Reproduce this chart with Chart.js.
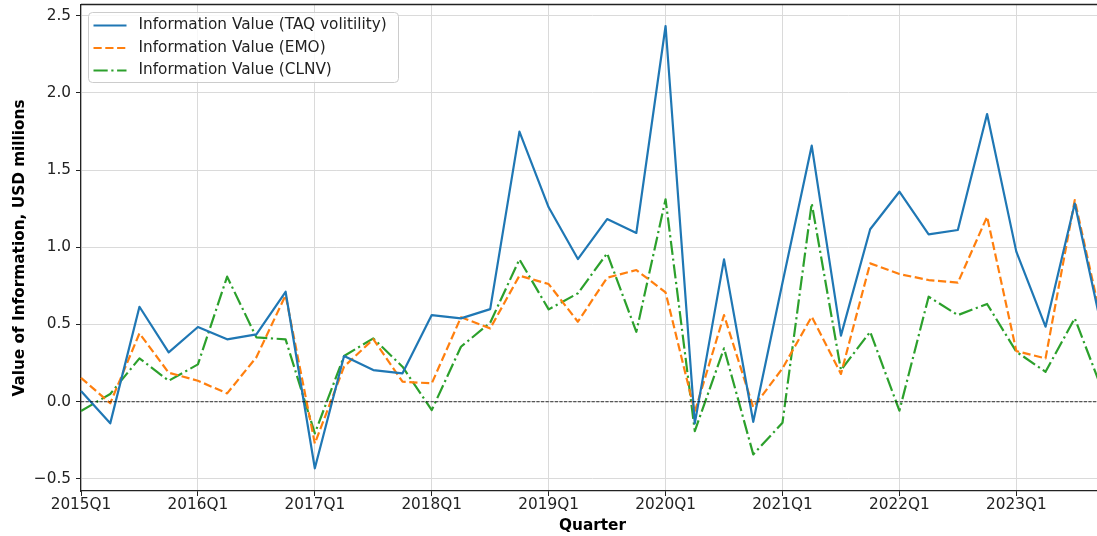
<!DOCTYPE html>
<html>
<head>
<meta charset="utf-8">
<script src="https://cdn.jsdelivr.net/npm/chart.js@4.4.1/dist/chart.umd.min.js"></script>
<style>
  html, body { margin: 0; padding: 0; background: #fff; overflow: hidden; }
  #wrap { width: 1112px; height: 536px; }
</style>
</head>
<body>
<div id="wrap"><canvas id="c" width="1112" height="536"></canvas></div>
<script>
const quarters = [
  '2015Q1','2015Q2','2015Q3','2015Q4','2016Q1','2016Q2','2016Q3','2016Q4',
  '2017Q1','2017Q2','2017Q3','2017Q4','2018Q1','2018Q2','2018Q3','2018Q4',
  '2019Q1','2019Q2','2019Q3','2019Q4','2020Q1','2020Q2','2020Q3','2020Q4',
  '2021Q1','2021Q2','2021Q3','2021Q4','2022Q1','2022Q2','2022Q3','2022Q4',
  '2023Q1','2023Q2','2023Q3','2023Q4'
];
const taqValues = [0.07, -0.14, 0.615, 0.32, 0.484, 0.404, 0.436, 0.712,
  -0.431, 0.296, 0.205, 0.184, 0.561, 0.54, 0.60, 1.749,
  1.259, 0.924, 1.183, 1.093, 2.433, -0.14, 0.922, -0.13,
  0.77, 1.658, 0.428, 1.117, 1.36, 1.084, 1.112, 1.863,
  0.972, 0.486, 1.283, 0.41];
const emoValues = [0.155, -0.01, 0.443, 0.188, 0.136, 0.054, 0.288, 0.69,
  -0.27, 0.227, 0.405, 0.13, 0.119, 0.547, 0.475, 0.816,
  0.762, 0.518, 0.803, 0.853, 0.708, -0.065, 0.561, -0.036,
  0.216, 0.551, 0.18, 0.896, 0.827, 0.788, 0.771, 1.198,
  0.328, 0.281, 1.306, 0.45];
const clnvValues = [-0.06, 0.05, 0.281, 0.136, 0.242, 0.81, 0.417, 0.404,
  -0.205, 0.296, 0.41, 0.227, -0.054, 0.356, 0.512, 0.922,
  0.598, 0.702, 0.961, 0.453, 1.311, -0.19, 0.346, -0.341,
  -0.136, 1.285, 0.205, 0.453, -0.058, 0.68, 0.561, 0.633,
  0.324, 0.194, 0.54, 0.047];
const seriesLabels = ['Information Value (TAQ volitility)', 'Information Value (EMO)', 'Information Value (CLNV)'];
const yTickValues = [-0.5, 0.0, 0.5, 1.0, 1.5, 2.0, 2.5];

const FONT = "'DejaVu Sans', sans-serif";
const FS = 15.3;
const TXT = '#222';

const framePlugin = {
  id: 'frame',
  afterDatasetsDraw(chart) {
    const {ctx, chartArea: a, scales: {y}} = chart;
    const y0 = y.getPixelForValue(0);
    ctx.save();
    ctx.strokeStyle = '#000';
    ctx.lineWidth = 0.8;
    ctx.setLineDash([3.2, 1.4]);
    ctx.beginPath();
    ctx.moveTo(a.left, y0);
    ctx.lineTo(a.right, y0);
    ctx.stroke();
    ctx.restore();
  },
  afterDraw(chart) {
    const {ctx, chartArea: a} = chart;
    ctx.save();
    ctx.strokeStyle = TXT;
    ctx.lineWidth = 1.3;
    ctx.beginPath();
    ctx.moveTo(a.left, a.top - 0.5);
    ctx.lineTo(a.right, a.top - 0.5);
    ctx.moveTo(a.right, a.top);
    ctx.lineTo(a.right, a.bottom);
    ctx.stroke();
    // legend
    const bx = a.left + 7.5, by = a.top + 7.5, bw = 310, bh = 70, r = 4;
    ctx.beginPath();
    ctx.moveTo(bx + r, by);
    ctx.arcTo(bx + bw, by, bx + bw, by + bh, r);
    ctx.arcTo(bx + bw, by + bh, bx, by + bh, r);
    ctx.arcTo(bx, by + bh, bx, by, r);
    ctx.arcTo(bx, by, bx + bw, by, r);
    ctx.closePath();
    ctx.fillStyle = 'rgba(255,255,255,0.8)';
    ctx.fill();
    ctx.strokeStyle = '#cccccc';
    ctx.lineWidth = 1;
    ctx.stroke();
    ctx.font = FS + 'px ' + FONT;
    ctx.textBaseline = 'middle';
    ctx.fillStyle = TXT;
    chart.data.datasets.forEach((ds, i) => {
      const cy = by + 13 + i * 22.5;
      ctx.save();
      ctx.strokeStyle = ds.borderColor;
      ctx.lineWidth = ds.borderWidth;
      ctx.setLineDash(ds.borderDash || []);
      ctx.beginPath();
      ctx.moveTo(bx + 5, cy);
      ctx.lineTo(bx + 38, cy);
      ctx.stroke();
      ctx.restore();
      ctx.fillText(ds.label, bx + 50, cy);
    });
    ctx.restore();
  }
};

new Chart(document.getElementById('c'), {
  type: 'line',
  data: {
    labels: quarters,
    datasets: [
      { label: seriesLabels[0], data: taqValues, borderColor: '#1f77b4', borderWidth: 2.2, borderDash: [] },
      { label: seriesLabels[1], data: emoValues, borderColor: '#ff7f0e', borderWidth: 2.2, borderDash: [8.2, 3.6] },
      { label: seriesLabels[2], data: clnvValues, borderColor: '#2ca02c', borderWidth: 2.2, borderDash: [14.2, 3.6, 2.2, 3.6] }
    ]
  },
  options: {
    responsive: false,
    animation: false,
    devicePixelRatio: 1,
    layout: { padding: { top: 5, right: 8, left: 0, bottom: 0 } },
    elements: { point: { radius: 0, hoverRadius: 0 }, line: { tension: 0, fill: false, borderCapStyle: 'butt', borderJoinStyle: 'round' } },
    plugins: { legend: { display: false }, tooltip: { enabled: false } },
    scales: {
      x: {
        type: 'category',
        offset: false,
        border: { display: true, color: TXT, width: 1.2 },
        grid: { color: '#dadada', lineWidth: 1, drawTicks: true, tickLength: 5, tickColor: TXT, tickWidth: 1 },
        ticks: {
          autoSkip: false, maxRotation: 0, minRotation: 0, padding: 0,
          color: TXT, font: { family: FONT, size: FS },
          callback: function(val, idx) { return idx % 4 === 0 ? quarters[idx] : null; }
        },
        title: { display: true, text: 'Quarter', color: '#000', font: { family: FONT, size: FS, weight: 'bold' }, padding: { top: 0, bottom: 1 } },
        afterFit(s) { s.height = 45; s.paddingLeft = 0; s.paddingRight = 0; }
      },
      y: {
        min: -0.578,
        max: 2.569,
        border: { display: true, color: TXT, width: 1.2 },
        grid: { color: '#dadada', lineWidth: 1, drawTicks: true, tickLength: 5, tickColor: TXT, tickWidth: 1 },
        afterBuildTicks(s) { s.ticks = yTickValues.map(v => ({ value: v })); },
        ticks: {
          padding: 5, color: TXT, font: { family: FONT, size: FS },
          callback: function(v) { const t = Math.abs(v) < 1e-9 ? '0.0' : Number(v).toFixed(1); return t.replace('-', '\u2212'); }
        },
        title: { display: true, text: 'Value of Information, USD millions', color: '#000', font: { family: FONT, size: FS, weight: 'bold' }, padding: { top: 10.5, bottom: 0 } },
        afterFit(s) { s.width = 81; s.paddingTop = 0; s.paddingBottom = 0; }
      }
    }
  },
  plugins: [framePlugin]
});
</script>
</body>
</html>
